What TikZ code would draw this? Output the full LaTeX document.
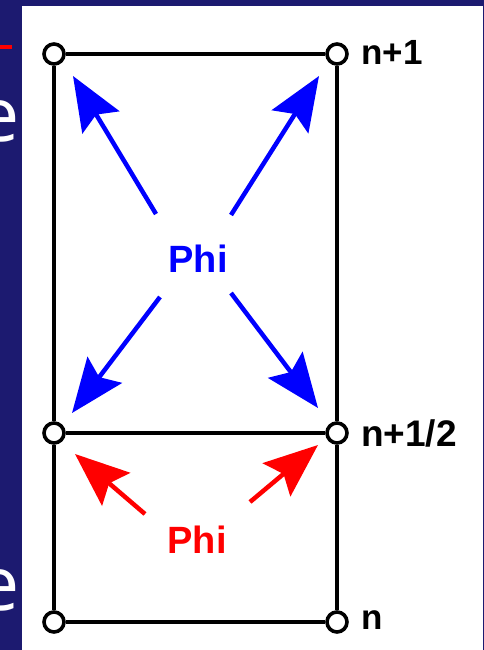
\documentclass[tikz,border=0pt]{standalone}
\usepackage{fontspec}
\setmainfont{Liberation Sans}
\newfontfamily\slidefont{Open Sans}
\usetikzlibrary{arrows.meta}
\definecolor{slidenavy}{RGB}{28,26,112}
\begin{document}
\begin{tikzpicture}[x=1pt,y=-1pt,
  vertex/.style={circle,draw=black,fill=white,line width=3.6pt,minimum size=20pt,inner sep=0pt},
  rung/.style={line width=3.6pt},
  lvl/.style={anchor=west,inner sep=0pt,font=\fontsize{35}{35}\selectfont\bfseries},
  phi/.style={inner sep=0pt,font=\fontsize{38}{38}\selectfont\bfseries},
  flux/.style={line width=4.5pt,-{Stealth[length=54pt,width=43pt,inset=9pt]}},
  slidetext/.style={anchor=base east,inner sep=0pt,text=white,font=\slidefont\fontsize{75}{75}\selectfont}]
  \useasboundingbox (0,0) rectangle (484,650);
  \clip (0,0) rectangle (484,650);

  % slide background and white panel
  \fill[slidenavy] (0,0) rectangle (484,650);
  \fill[white] (22,6) rectangle (482.5,650);

  % slide text running in from the left edge
  \fill[red] (0,45) rectangle (12,49);
  \node[slidetext] (etop) at (19.5,141) {e};
  \node[slidetext] (ebot) at (19.5,610) {e};

  % grid points
  \node[vertex] (tl) at (54,54) {};
  \node[vertex] (tr) at (337,54) {};
  \node[vertex] (ml) at (54,433) {};
  \node[vertex] (mr) at (337,433) {};
  \node[vertex] (bl) at (54,622) {};
  \node[vertex] (br) at (337,622) {};

  \draw[rung] (tl) -- (tr);
  \draw[rung] (tr) -- (mr);
  \draw[rung] (mr) -- (br);
  \draw[rung] (br) -- (bl);
  \draw[rung] (bl) -- (ml);
  \draw[rung] (ml) -- (tl);
  \draw[rung] (ml) -- (mr);

  % time level labels
  \node[lvl] (ltop) at (361,52) {n+1};
  \node[lvl,font=\fontsize{37}{37}\selectfont\bfseries] (lmid) at (361,433) {n+1/2};
  \node[lvl] (lbot) at (361,620) {n};

  % Phi labels
  \node[phi,text=blue] (phiup) at (198,259) {Phi};
  \node[phi,text=red] (phidn) at (197,540) {Phi};

  % blue arrows
  \coordinate (u1s) at (156,214); \coordinate (u1t) at (73,76);
  \coordinate (u2s) at (231,215); \coordinate (u2t) at (319,76);
  \coordinate (u3s) at (160,297); \coordinate (u3t) at (72,413);
  \coordinate (u4s) at (231,293); \coordinate (u4t) at (318,408);
  \draw[flux,blue] (u1s) -- (u1t);
  \draw[flux,blue] (u2s) -- (u2t);
  \draw[flux,blue] (u3s) -- (u3t);
  \draw[flux,blue] (u4s) -- (u4t);

  % red arrows
  \coordinate (d1s) at (145,514); \coordinate (d1t) at (75,454);
  \coordinate (d2s) at (250,502); \coordinate (d2t) at (318,445);
  \draw[flux,red] (d1s) -- (d1t);
  \draw[flux,red] (d2s) -- (d2t);
\end{tikzpicture}
\end{document}
